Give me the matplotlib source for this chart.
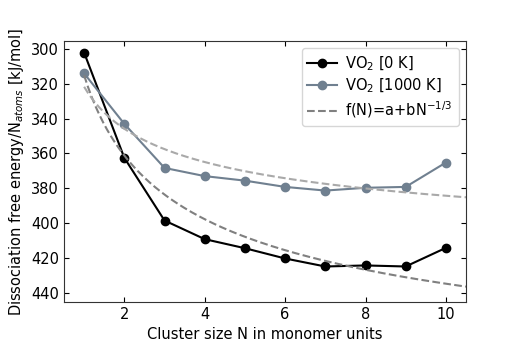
import numpy as np
import matplotlib
matplotlib.use("Agg")
import matplotlib.pyplot as plt

# valeurs
N = np.array([1, 2, 3, 4, 5, 6, 7, 8, 9, 10])
E_0K = np.array([302.1, 362.5, 398.5, 409.2, 414.4, 420.3, 424.9, 424.3, 424.9, 414.2])
E_1000K = np.array([314.0, 343.0, 368.3, 373.0, 375.6, 379.2, 381.3, 379.7, 379.2, 365.2])

# ajustement f(N) = a + b N^(-1/3)
b0, a0 = np.polyfit(N ** (-1 / 3), E_0K, 1)
b1, a1 = np.polyfit(N ** (-1 / 3), E_1000K, 1)
N_fit = np.linspace(1, 10.5, 200)

fig = plt.figure(figsize=(5.18, 3.45), dpi=100)
ax = fig.add_axes([0.1236, 0.1246, 0.776, 0.7566])

ax.plot(N, E_0K, 'o-', color='black', lw=1.5, ms=6, label='VO$_2$ [0 K]')
ax.plot(N, E_1000K, 'o-', color='slategray', lw=1.5, ms=6, label='VO$_2$ [1000 K]')
ax.plot(N_fit, a0 + b0 * N_fit ** (-1 / 3), '--', color='gray', lw=1.5,
        label='f(N)=a+bN$^{-1/3}$')
ax.plot(N_fit, a1 + b1 * N_fit ** (-1 / 3), '--', color='darkgray', lw=1.5)

ax.set_xlim(0.5, 10.5)
ax.set_ylim(445.3, 295.4)
ax.set_xticks([2, 4, 6, 8, 10])
ax.set_yticks([300, 320, 340, 360, 380, 400, 420, 440])
ax.tick_params(direction='in', top=True, right=True, labelsize=10.5)
for s in ax.spines.values():
    s.set_color('#333333')

ax.set_xlabel('Cluster size N in monomer units', fontsize=10.5)
ax.set_ylabel('Dissociation free energy/N$_{atoms}$ [kJ/mol]', fontsize=10.5)
ax.legend(loc='upper right', fontsize=10.5, labelspacing=0.3, handletextpad=0.6)

fig.savefig('out.png', dpi=100)
